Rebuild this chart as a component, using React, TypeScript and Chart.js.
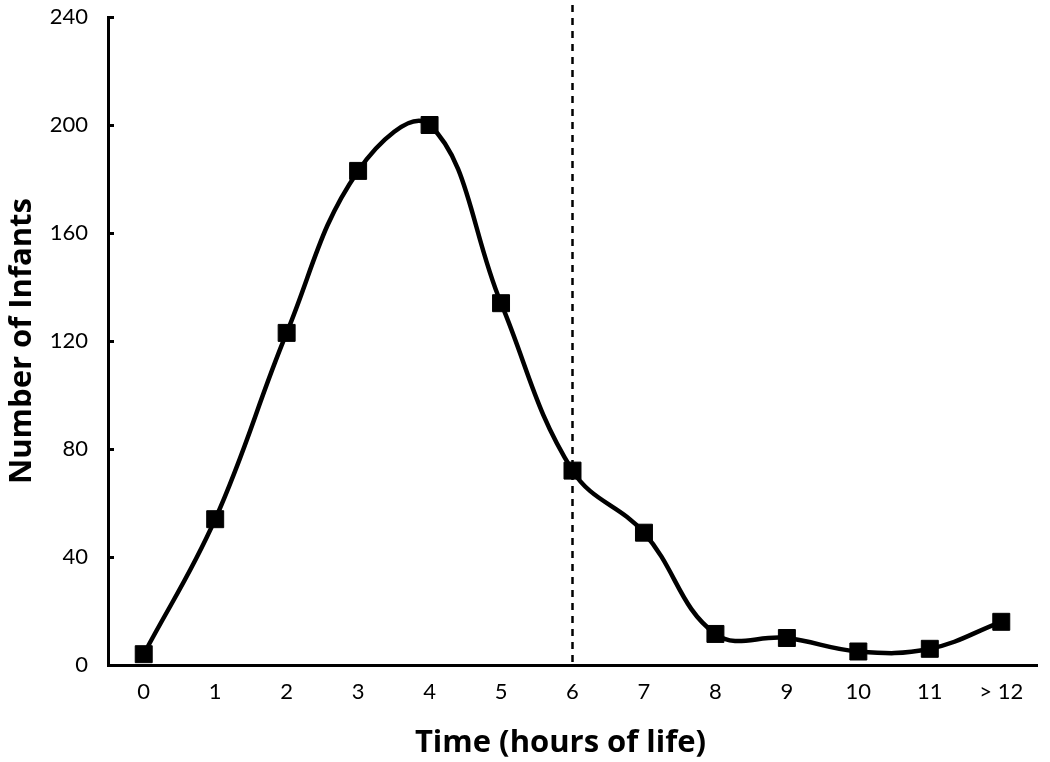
import React, { useEffect, useRef } from "react";
import { Chart, registerables } from "chart.js";

Chart.register(...registerables);

const categories = ["0", "1", "2", "3", "4", "5", "6", "7", "8", "9", "10", "11", "> 12"];
const infants = [4, 54, 123, 183, 200, 134, 72, 49, 11.5, 10, 5, 6, 16];
const yTicks = [0, 40, 80, 120, 160, 200, 240];
const cutoffCategory = "6";
const xTitle = "Time (hours of life)";
const yTitle = "Number of Infants";

const FONT = "Lato, 'Open Sans', sans-serif";
const TITLE_FONT = "'Open Sans', Lato, sans-serif";

const extrasPlugin = {
  id: "extras",
  afterDatasetsDraw(chart: any) {
    const { ctx, chartArea, scales } = chart;
    const x = scales.x;
    const y = scales.y;
    ctx.save();
    // inward y tick marks
    ctx.strokeStyle = "#000";
    ctx.lineWidth = 3;
    yTicks.forEach((v) => {
      const py = Math.round(y.getPixelForValue(v)) + 0.5;
      ctx.beginPath();
      ctx.moveTo(chartArea.left, py);
      ctx.lineTo(chartArea.left + 6, py);
      ctx.stroke();
    });
    // dashed cutoff line
    const px = x.getPixelForValue(categories.indexOf(cutoffCategory));
    ctx.lineWidth = 2.5;
    ctx.setLineDash([7, 6]);
    ctx.beginPath();
    ctx.moveTo(px, 5);
    ctx.lineTo(px, chartArea.bottom);
    ctx.stroke();
    ctx.setLineDash([]);
    // x axis title (slightly left of centre, as in the original)
    ctx.fillStyle = "#000";
    ctx.font = `bold 31px ${TITLE_FONT}`;
    ctx.textAlign = "center";
    ctx.textBaseline = "middle";
    const cx = (chartArea.left + chartArea.right) / 2 - 12;
    ctx.fillText(xTitle, cx, x.bottom - 19);
    ctx.restore();
  },
};

export default function App() {
  const ref = useRef<HTMLCanvasElement | null>(null);
  useEffect(() => {
    document.body.style.margin = "0";
    const chart = new Chart(ref.current as HTMLCanvasElement, {
      type: "line",
      data: {
        labels: categories,
        datasets: [
          {
            data: infants,
            borderColor: "#000",
            backgroundColor: "#000",
            borderWidth: 4.5,
            tension: 0.4,
            pointStyle: "rect",
            pointRadius: 12,
            pointBorderWidth: 1,
            pointBackgroundColor: "#000",
            pointBorderColor: "#000",
            clip: false as any,
          },
        ],
      },
      options: {
        animation: false,
        responsive: false,
        maintainAspectRatio: false,
        layout: { padding: { top: 17, right: 6, left: 0, bottom: 0 } },
        plugins: { legend: { display: false }, tooltip: { enabled: false } },
        scales: {
          x: {
            type: "category",
            offset: true,
            afterFit: (s: any) => {
              s.height = 97;
            },
            grid: { display: false, drawTicks: false },
            border: { display: true, color: "#000", width: 3 },
            ticks: { color: "#000", font: { family: FONT, size: 22 }, padding: 14 },
            title: { display: false, text: xTitle },
          },
          y: {
            min: 0,
            max: 240,
            afterFit: (s: any) => {
              s.width = 108;
              s.paddingTop = 0;
              s.paddingBottom = 0;
            },
            afterBuildTicks: (s: any) => {
              s.ticks = yTicks.map((v) => ({ value: v }));
            },
            grid: { display: false, drawTicks: false },
            border: { display: true, color: "#000", width: 3 },
            ticks: { color: "#000", font: { family: FONT, size: 22 }, padding: 20 },
            title: {
              display: true,
              text: yTitle,
              color: "#000",
              font: { family: TITLE_FONT, size: 31, weight: "bold" },
              padding: { top: 4, bottom: 0 },
            },
          },
        },
      },
      plugins: [extrasPlugin],
    });
    return () => chart.destroy();
  }, []);
  return <canvas ref={ref} width={1050} height={762} style={{ display: "block" }} />;
}
